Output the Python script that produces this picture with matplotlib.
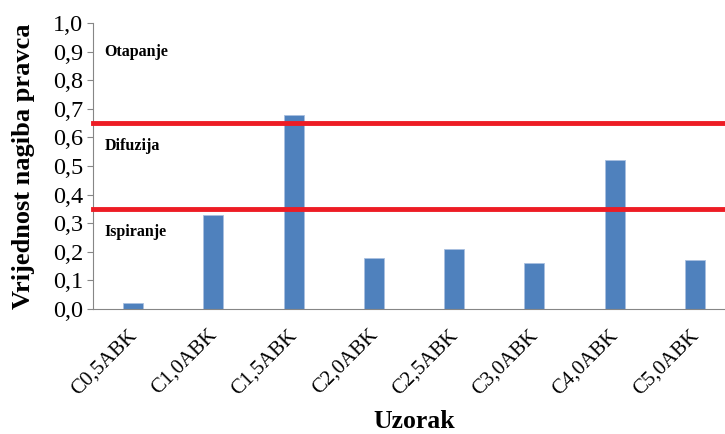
import numpy as np
import matplotlib
matplotlib.use("Agg")
import matplotlib.pyplot as plt
from matplotlib.transforms import ScaledTranslation

# --- data ---------------------------------------------------------------
uzorci = ["C0,5ABK", "C1,0ABK", "C1,5ABK", "C2,0ABK",
          "C2,5ABK", "C3,0ABK", "C4,0ABK", "C5,0ABK"]
nagib = [0.02, 0.33, 0.68, 0.18, 0.21, 0.16, 0.52, 0.17]
granice = [0.35, 0.65]
zone = ["Ispiranje", "Difuzija", "Otapanje"]
zone_y = [0.27, 0.57, 0.90]
yticks = np.round(np.arange(0, 1.01, 0.1), 1)

plt.rcParams["font.family"] = ["Liberation Serif", "DejaVu Serif"]

fig = plt.figure(figsize=(7.25, 4.34), dpi=100, facecolor="w")
# axes runs a bit past the right edge, as in the original crop
ax = fig.add_axes([93 / 725, 1 - 309 / 434, 642 / 725, 286 / 434])

x = np.arange(len(uzorci))
ax.bar(x, nagib, width=0.25, color="#4f81bd", edgecolor="#a9c0e0", linewidth=0.6, zorder=2)
for g in granice:
    ax.axhline(g, color="#ed1c24", linewidth=3.5, zorder=3, clip_on=False)
for txt, yy in zip(zone, zone_y):
    ax.text(0.018, yy, txt, transform=ax.get_yaxis_transform(), fontsize=11.5,
            fontweight="bold", va="center", ha="left")

ax.set_xlim(-0.5, len(uzorci) - 0.5)
ax.set_ylim(0, 1.0)
ax.set_yticks(yticks)
ax.set_yticklabels([f"{v:.1f}".replace(".", ",") for v in yticks], fontsize=17.5)
ax.set_xticks(x)
ax.set_xticklabels(uzorci, fontsize=15, rotation=45, ha="right",
                   va="top", rotation_mode="anchor")
ax.tick_params(axis="x", length=0, pad=12)
ax.tick_params(axis="y", length=4, color="#868686", pad=3)
shift = ScaledTranslation(-6 / 100, 0, fig.dpi_scale_trans)
for lab in ax.get_xticklabels():
    lab.set_transform(lab.get_transform() + shift)

for s in ("top", "right"):
    ax.spines[s].set_visible(False)
for s in ("left", "bottom"):
    ax.spines[s].set_color("#868686")

ax.set_ylabel("Vrijednost nagiba pravca", fontsize=19, fontweight="bold")
ax.yaxis.set_label_coords(-(93 - 24) / 642, 0.5)
ax.set_xlabel("Uzorak", fontsize=18.5, fontweight="bold")
ax.xaxis.set_label_coords((414 - 93) / 642, -(422 - 309) / 286)
ax.xaxis.label.set_va("center")
ax.yaxis.label.set_va("center")

fig.savefig("out.png", dpi=100)
